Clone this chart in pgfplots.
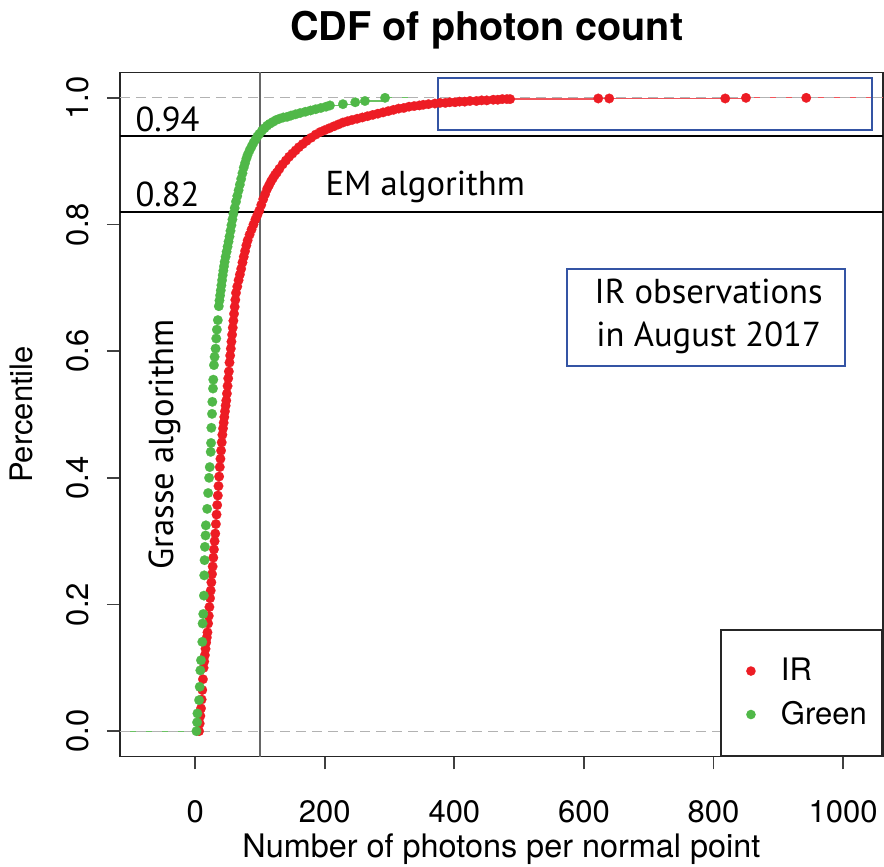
\documentclass[border=0pt]{standalone}
\usepackage{fontspec}
\setmainfont{TeX Gyre Heros}
\newfontfamily\annfont{PT Sans}
\usepackage{pgfplots}
\usepackage{pgfplotstable}
\pgfplotsset{compat=1.18}
\definecolor{irred}{RGB}{237,28,36}
\definecolor{irgreen}{RGB}{80,184,72}
\definecolor{boxblue}{RGB}{52,84,164}

\pgfplotstableread{
x y
6 0.000
7 0.012
8 0.024
9 0.036
10 0.050
11 0.065
12 0.082
13 0.100
14 0.110
15 0.120
16 0.130
17 0.140
18 0.148
19 0.156
20 0.170
21 0.182
22 0.196
23 0.210
24 0.222
25 0.235
26 0.248
27 0.260
28 0.274
29 0.287
30 0.300
31 0.312
32 0.327
33 0.342
34 0.357
35 0.372
36 0.387
37 0.402
38 0.417
39 0.430
40 0.443
41 0.456
42 0.468
43 0.478
44 0.487
45 0.496
46 0.505
47 0.514
48 0.522
49 0.533
50 0.545
51 0.557
52 0.568
53 0.582
54 0.593
55 0.604
56 0.615
57 0.626
58 0.637
59 0.648
60 0.659
61 0.670
62 0.681
63 0.692
65 0.702
67 0.712
69 0.721
71 0.730
73 0.740
75 0.749
77 0.758
79 0.767
81 0.775
84 0.784
87 0.792
90 0.800
93 0.808
96 0.815
99 0.822
102 0.831
105 0.840
108 0.848
111 0.856
114 0.862
117 0.868
120 0.873
123 0.878
126 0.882
130 0.888
135 0.895
140 0.901
145 0.907
150 0.912
155 0.917
160 0.922
166 0.927
172 0.932
179 0.937
186 0.942
193 0.946
200 0.949
207 0.952
214 0.955
221 0.958
228 0.961
235 0.963
242 0.965
250 0.967
258 0.969
266 0.971
274 0.973
282 0.975
290 0.977
298 0.979
306 0.981
314 0.983
322 0.984
330 0.986
338 0.987
346 0.988
352 0.989
360 0.990
370 0.991
378 0.992
386 0.992
393 0.993
401 0.993
408 0.994
416 0.994
424 0.995
434 0.995
442 0.996
450 0.996
460 0.997
467 0.997
474 0.998
481 0.998
486 0.998
622 0.999
639 0.999
818 0.999
850 1.000
943 1.000
}\redtab

\pgfplotstableread{
x y
2 0.000
3 0.014
3.5 0.028
6 0.049
7 0.070
8 0.096
9 0.112
11 0.141
11.5 0.170
12.5 0.185
13.5 0.214
14 0.246
14.5 0.270
15 0.291
16 0.309
16.5 0.325
18.5 0.351
20 0.376
21.5 0.400
22.5 0.417
24 0.441
24.5 0.455
25 0.479
26 0.501
26.5 0.520
27.5 0.541
28 0.555
29 0.578
30 0.591
31.5 0.604
32.5 0.620
33.5 0.634
35 0.649
36.5 0.671
37.5 0.680
38.5 0.688
39.5 0.696
40.5 0.704
41.5 0.712
42.5 0.720
43.5 0.727
44.5 0.734
45.5 0.741
47 0.749
48.5 0.757
50 0.765
51.5 0.773
53 0.781
54.5 0.790
56 0.799
57.5 0.808
59 0.817
61 0.826
63 0.836
65 0.845
67 0.854
69 0.863
71 0.872
73 0.881
75 0.890
77 0.897
79 0.904
81 0.910
84 0.917
87 0.923
90 0.929
93 0.934
96 0.939
99 0.943
103 0.948
107 0.952
111 0.956
115 0.959
120 0.962
125 0.965
130 0.967
136 0.969
142 0.970
148 0.972
155 0.974
162 0.976
170 0.978
178 0.980
186 0.982
194 0.984
202 0.986
208 0.988
228 0.990
247 0.993
262 0.995
293 1.000
}\greentab

\begin{document}
\begin{tikzpicture}
\useasboundingbox (-60pt,-55.25pt) rectangle (382pt,378.25pt);
\begin{axis}[
  at={(0,0)}, anchor=south west,
  width=381.35pt, height=342pt, scale only axis,
  xmin=-116, xmax=1061, ymin=-0.04, ymax=1.04,
  xtick={0,200,400,600,800,1000},
  xticklabels={0,200,400,600,800,1000},
  ytick={0,0.2,0.4,0.6,0.8,1},
  yticklabels={0.0,0.2,0.4,0.6,0.8,1.0},
  tick align=outside, tick pos=left,
  major tick length=6.5pt,
  axis line style={draw=black!85, line width=0.9pt},
  every tick/.style={draw=black!75, line width=0.9pt},
  tick label style={font=\fontsize{15.5}{18}\selectfont},
  xticklabel shift=0pt,
  xticklabel style={anchor=base, inner sep=0pt, yshift=-26.6pt},
  yticklabel style={rotate=90, anchor=base, inner sep=0pt},
  yticklabel shift=9pt,
  xlabel={Number of photons per normal point},
  ylabel={Percentile},
  every axis x label/.style={at={([yshift=-50.25pt]rel axis cs:0.5,0)}, anchor=base, font=\fontsize{16.2}{18}\selectfont},
  every axis y label/.style={at={([xshift=-43.5pt]rel axis cs:0,0.5)}, rotate=90, anchor=base, font=\fontsize{15.5}{18}\selectfont},
  title={CDF of photon count},
  every axis title/.style={at={([yshift=16.2pt]rel axis cs:0.481,1)}, anchor=base, font=\fontsize{19.8}{22}\selectfont\bfseries},
  legend cell align=left,
  legend style={at={(rel axis cs:1,0)}, anchor=south east, draw=black!85, line width=0.9pt, fill=white,
    inner xsep=7.5pt, inner ysep=14pt, row sep=8.8pt, column sep=7.5pt,
    font=\fontsize{15.5}{18}\selectfont, nodes={inner sep=0pt}},
  clip=false,
]
% step lines (ecdf horizontal segments)
\addplot[irred!75, line width=0.6pt, jump mark left, forget plot] table[x=x,y=y] {\redtab};
\addplot[irred!75, line width=0.6pt, forget plot] coordinates {(-116,0) (6,0)};
\addplot[irred!75, line width=0.6pt, forget plot] coordinates {(943,1) (1061,1)};
\addplot[irgreen!85, line width=0.6pt, jump mark left, forget plot] table[x=x,y=y] {\greentab};
\addplot[irgreen!85, line width=0.6pt, forget plot] coordinates {(-116,0) (2,0)};
\addplot[irgreen!85, line width=0.6pt, forget plot] coordinates {(293,1) (343,1)};
% points
\addplot[only marks, mark=*, mark size=2.4pt, color=irred, mark options={fill=irred, draw=irred, line width=0.1pt},
  legend image code/.code={\path[draw=none,fill=none] (0,-3pt) rectangle (15pt,3pt); \fill[irred, draw=none] (7.5pt,0) circle (2.4pt);}]
  table[x=x,y=y] {\redtab};
\addlegendentry{IR}
\addplot[only marks, mark=*, mark size=2.4pt, color=irgreen, mark options={fill=irgreen, draw=irgreen, line width=0.1pt},
  legend image code/.code={\path[draw=none,fill=none] (0,-3pt) rectangle (15pt,3pt); \fill[irgreen, draw=none] (7.5pt,0) circle (2.4pt);}]
  table[x=x,y=y] {\greentab};
\addlegendentry{Green}
% 0 and 1 reference lines
\draw[black!30, line width=0.6pt, dash pattern=on 5pt off 3pt] (axis cs:-116,0) -- (axis cs:1061,0);
\draw[black!30, line width=0.6pt, dash pattern=on 5pt off 3pt] (axis cs:-116,1) -- (axis cs:1061,1);
% annotation lines
\draw[black!60, line width=1.1pt] (axis cs:100,-0.04) -- (axis cs:100,1.04);
\draw[black, line width=0.7pt] (axis cs:-116,0.94) -- (axis cs:1061,0.94);
\draw[black, line width=0.7pt] (axis cs:-116,0.82) -- (axis cs:1061,0.82);
% boxes
\draw[boxblue, line width=1pt] (axis cs:374.5,0.949) rectangle (axis cs:1044.3,1.0306);
\draw[boxblue, line width=1pt] (axis cs:573.6,0.576) rectangle (axis cs:1003,0.7305);
% annotation text
\begin{scope}[every node/.style={inner sep=0pt, font=\annfont\fontsize{17.3}{20}\selectfont}]
\node[anchor=base west] at (axis cs:-92.6,0.947) {0.94};
\node[anchor=base west] at (axis cs:-92.6,0.828) {0.82};
\node[anchor=base west] at (axis cs:200.6,0.846) {EM algorithm};
\node[rotate=90, anchor=base] at (axis cs:-34,0.453) {Grasse algorithm};
\node[anchor=base] at (axis cs:792.4,0.675) {IR observations};
\node[anchor=base] at (axis cs:792.4,0.607) {in August 2017};
\end{scope}
\end{axis}
\end{tikzpicture}
\end{document}
